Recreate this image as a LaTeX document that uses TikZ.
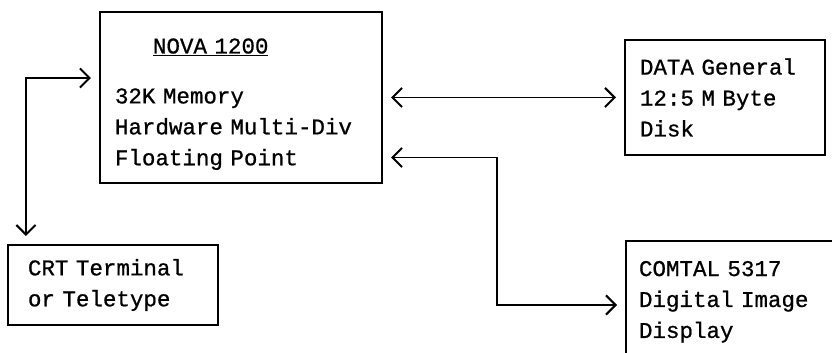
\documentclass[tikz,border=0pt]{standalone}
\usepackage{fontspec}
\setmonofont{Liberation Mono}[FakeBold=0.8]
\usetikzlibrary{arrows.meta, positioning, calc}

\begin{document}
\begin{tikzpicture}[
  x=0.025cm, y=-0.025cm,
  unit/.style={rectangle, draw, line width=1.4pt, align=left,
               font=\ttfamily\fontsize{16}{22}\selectfont, inner xsep=0pt},
  link/.style={{Straight Barb[length=2.4mm,width=4.8mm]}-{Straight Barb[length=2.4mm,width=4.8mm]},
               line width=1.4pt, shorten <=0.2cm, shorten >=0.2cm}
]
\useasboundingbox (0,0) rectangle (832,353);
\clip (0,0) rectangle (832,353);

\node[unit, text width=6.3cm, minimum width=7.05cm, minimum height=4.275cm] (nova) at (241,97.5)
  {\rule{0pt}{0.71cm}\hspace*{0.95cm}\underline{NOVA 1200}\\[0.475cm]
   32K Memory\\ Hardware Multi-Div\\ Floating Point};
\node[unit, text width=4.25cm, minimum width=5cm, minimum height=2.875cm] (data) at (725,97.5)
  {DATA General\\ 12:5 M Byte\\ Disk};
\node[unit, text width=4.25cm, minimum width=5.25cm, minimum height=2cm] (crt) at (113,285)
  {CRT Terminal\\ or Teletype};
\node[unit, text width=10cm, inner xsep=0.325cm, inner ysep=0.5cm, anchor=north west] (comtal) at (625,240)
  {COMTAL 5317\\ Digital Image\\ Display};

\coordinate (turn) at (497,305);

\draw[link] (nova) -- (data);
\draw[link] ([xshift=0.475cm]crt.north west) |- ([yshift=0.4875cm]nova.west);
\draw[link] ([yshift=-1.5cm]nova.east) -| (turn) -- (turn -| comtal.west);
\end{tikzpicture}
\end{document}
